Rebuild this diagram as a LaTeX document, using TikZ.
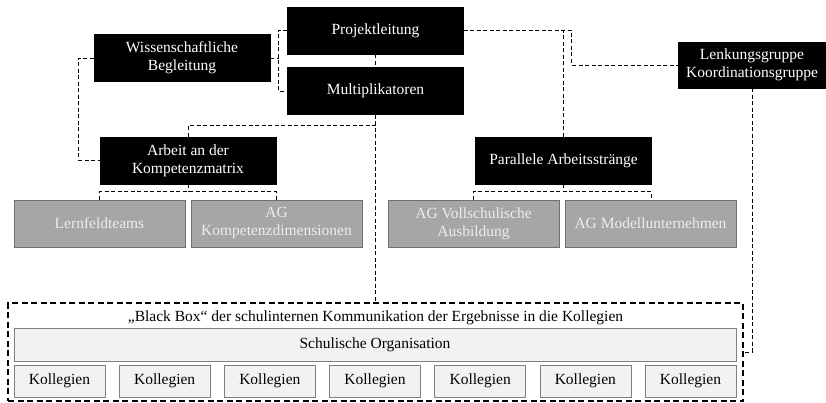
\documentclass[tikz,border=0pt]{standalone}
\usepackage{fontspec}
\setmainfont{Liberation Serif}
\usepackage{tikz}
\usetikzlibrary{arrows,positioning,backgrounds,calc}
\definecolor{agfill}{HTML}{A6A6A6}
\definecolor{agline}{HTML}{707070}
\definecolor{agtext}{HTML}{EDEDED}
\definecolor{orgfill}{HTML}{F2F2F2}
\definecolor{orgline}{HTML}{7F7F7F}

\begin{document}
\begin{tikzpicture}[x=1pt, y=-1pt, semithick,
       font=\fontsize{15.5}{18}\selectfont,
       lead/.style={draw=black, fill=black, text=white, align=center, minimum width=176pt, minimum height=47pt, inner sep=2pt},
       ag/.style={draw=agline, fill=agfill, text=agtext, align=center, minimum width=171pt, minimum height=47pt, inner sep=2pt},
       org/.style={draw=orgline, fill=orgfill, minimum height=32pt, inner sep=2pt},
       conn/.style={-, dash pattern=on 4pt off 2.5pt, line width=0.9pt}]
      \useasboundingbox (0,0) rectangle (826,403);
      % Leitungsebene
      \node[lead] (proj) at (375.5, 30.5) {Projektleitung};
      \node[lead] (multi) at (375.5, 91) {Multiplikatoren};
      \node[lead] (wiss) at (182, 58) {Wissenschaftliche\\Begleitung};
      \node[lead, minimum width=148pt, minimum height=46pt] (lenk) at (752, 65) {Lenkungsgruppe\\Koordinationsgruppe};
      \node[lead] (arbeit) at (188, 160.5) {Arbeit an der\\Kompetenzmatrix};
      \node[lead] (parallel) at (563.5, 160.5) {Parallele Arbeitsstr\"ange};
      % Arbeitsgruppen
      \node[ag] (lern) at (99.5, 223.5) {Lernfeldteams};
      \node[ag] (agkomp) at (276.5, 223.5) {AG\\Kompetenzdimensionen};
      \node[ag] (agvoll) at (473.5, 223.5) {AG Vollschulische\\Ausbildung};
      \node[ag] (agmodell) at (650.5, 223.5) {AG Modellunternehmen};
      % Black Box
      \node[draw=black, line width=2pt, dash pattern=on 6pt off 3.5pt, minimum width=735pt, minimum height=98pt, inner sep=0pt] (frame) at (375.5, 352) {};
      \node (bbtitle) at (375.5, 317.5) {„Black Box“ der schulinternen Kommunikation der Ergebnisse in die Kollegien};
      \node[org, minimum width=722pt, minimum height=33pt] (schul) at (375, 344.5) {Schulische Organisation};
      \foreach \i in {0,...,6}
        \node[org, minimum width=91pt] (koll\i) at (59.5+105.17*\i, 381) {Kollegien};

      \draw[conn] (proj.west) -- ++(-9,0) |- (multi.west);
      \draw[conn] (wiss.east) -- ++(9,0);
      \path (proj) edge[conn] node {} (multi);
      \draw[conn] (multi.south) -- (multi.south |- frame.north);
      \draw[conn] (arbeit.north) |- ($(multi.south)+(0,11)$);
      \draw[conn] (wiss.west) -- ++(-15,0) |- (arbeit.west);
      \draw[conn] (proj.east) -- ++(108,0) |- (lenk.west);
      \draw[conn] (parallel.north) -- (parallel.north |- proj.east);
      \draw[conn] (lenk.south) |- (frame.east);

      \draw[conn] (arbeit.south) -- ++(0,8);
      \draw[conn] (arbeit.south west |- lern.north) -- ++(0,-8) -| (arbeit.south east |- lern.north);
      \draw[conn] (parallel.south) -- ++(0,8);
      \draw[conn] ($(parallel.south west |- agvoll.north)+(-2,0)$) -- ++(0,-8) -| (parallel.south east |- agvoll.north);
     \end{tikzpicture}
\end{document}
